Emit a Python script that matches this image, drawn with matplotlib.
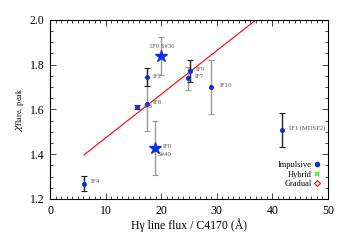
import matplotlib
matplotlib.use("Agg")
import matplotlib.pyplot as plt
from matplotlib.lines import Line2D
from matplotlib.ticker import MultipleLocator

plt.rcParams['font.family'] = ['Liberation Serif', 'DejaVu Serif']
plt.rcParams['mathtext.fontset'] = 'stix'

# Data (x = Hgamma line flux / C4170, y = chi_flare,peak)
names  = ['IF4', 'IF3', 'IF8', 'IF2', 'IF7', 'IF9', 'IF10', 'IF1 (MDSF2)']
x_pts  = [6.1, 15.6, 17.4, 17.4, 24.8, 25.1, 29.0, 41.7]
y_pts  = [1.268, 1.610, 1.625, 1.744, 1.739, 1.773, 1.699, 1.508]
y_err  = [0.033, 0.010, 0.120, 0.040, 0.050, 0.050, 0.120, 0.078]
err_gray = [False, False, True, False, True, False, True, False]

star_names = ['IF0 S#36', 'IF0 S#40']
x_star = [19.9, 18.9]
y_star = [1.839, 1.429]
e_star = [0.085, 0.121]

# linear fit line
fit_x = [6.1, 40.0]
fit_slope = 0.0195
fit_icpt = 1.278

# label anchor positions (data coords)
lab_text = ['IF4', 'IF3', 'IF8', 'IF2', 'IF7', 'IF9', 'IF10', 'IF1 (MDSF2)',
            'IF0 S#36', 'IF0', 'S#40']
lab_x = [7.3, 16.8, 18.5, 18.5, 26.1, 26.3, 30.6, 43.0, 17.9, 20.2, 19.4]
lab_y = [1.280, 1.613, 1.630, 1.747, 1.748, 1.778, 1.705, 1.518, 1.883, 1.436, 1.398]

fig = plt.figure(figsize=(3.6, 2.4), dpi=100)
ax = fig.add_axes([0.139, 0.171, 0.772, 0.746])

# fit line
ax.plot(fit_x, [fit_icpt + fit_slope * v for v in fit_x], color='red', lw=0.8, zorder=2)

# error bars and points
for xv, yv, ev, g in zip(x_pts, y_pts, y_err, err_gray):
    c = '#999999' if g else '#222222'
    _, caps, bars = ax.errorbar(xv, yv, yerr=ev, fmt='none', ecolor=c, elinewidth=1.0,
                                capsize=2.2, capthick=0.8, zorder=3)
    for cp in caps:
        cp.set_color('#222222')
for xv, yv, ev in zip(x_star, y_star, e_star):
    _, caps, bars = ax.errorbar(xv, yv, yerr=ev, fmt='none', ecolor='#999999', elinewidth=1.0,
                                capsize=2.2, capthick=0.8, zorder=3)
    for cp in caps:
        cp.set_color('#222222')

ax.plot(x_pts, y_pts, 'o', color='#1030d0', ms=2.6, zorder=4, ls='none')
ax.plot(x_star, y_star, '*', color='#1030e8', ms=9, zorder=5, ls='none')

for t, lx, ly in zip(lab_text, lab_x, lab_y):
    ax.text(lx, ly, t, fontsize=4.8, color='#555555', ha='left', va='center', zorder=6)

ax.set_xlim(0, 50)
ax.set_ylim(1.2, 2.0)
ax.xaxis.set_major_locator(MultipleLocator(10))
ax.xaxis.set_minor_locator(MultipleLocator(1))
ax.yaxis.set_major_locator(MultipleLocator(0.2))
ax.yaxis.set_minor_locator(MultipleLocator(0.05))
ax.set_xticks([0, 10, 20, 30, 40, 50])
ax.set_xticklabels(['0', '10', '20', '30', '40', '50'])
ax.set_yticks([1.2, 1.4, 1.6, 1.8, 2.0])
ax.set_yticklabels(['1.2', '1.4', '1.6', '1.8', '2.0'])
ax.tick_params(which='both', direction='in', top=True, right=True, color='#444444',
               labelsize=8.5, width=0.7)
ax.tick_params(which='major', length=4, pad=4)
ax.tick_params(which='minor', length=2)
for s in ax.spines.values():
    s.set_linewidth(0.8)

ax.set_xlabel('H\u03b3 line flux / C4170 (\u00c5)', fontsize=8.5, labelpad=1)
ax.set_ylabel(r'$\chi_{\mathrm{flare,\ peak}}$', fontsize=8.5, labelpad=2)

handles = [Line2D([], [], marker='o', color='#1030d0', ls='none', ms=3),
           Line2D([], [], marker='x', color='#44ee22', ls='none', ms=3.5, mew=1.2),
           Line2D([], [], marker='D', color='red', mfc='none', ls='none', ms=3, mew=0.8)]
ax.legend(handles, ['Impulsive', 'Hybrid', 'Gradual'], loc='lower right',
          bbox_to_anchor=(0.99, 0.03), markerfirst=False, frameon=False,
          fontsize=6, handlelength=0.5, handletextpad=0.4, labelspacing=0.15,
          borderpad=0.2)

fig.savefig('out.png', dpi=100)
